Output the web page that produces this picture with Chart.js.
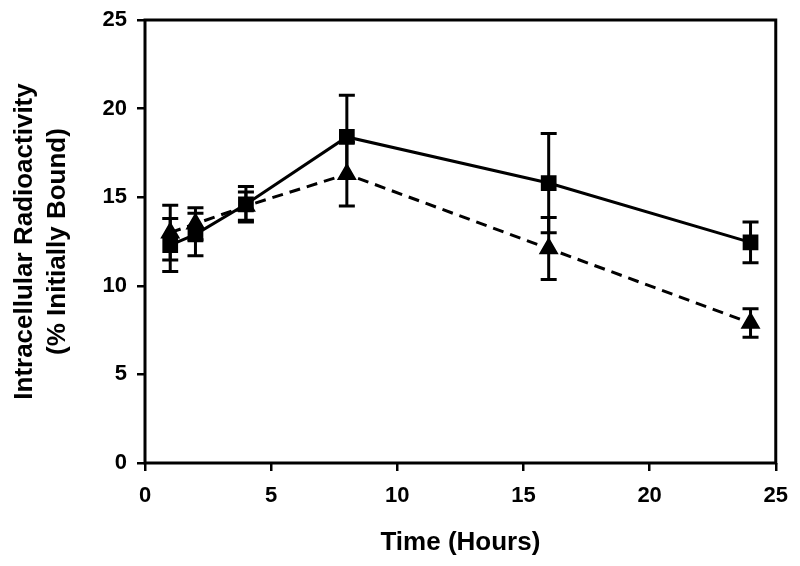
<!DOCTYPE html>
<html lang="en">
<head>
    <meta charset="UTF-8">
    <title>Intracellular Radioactivity</title>
    <script src="https://cdn.jsdelivr.net/npm/chart.js"></script>
    <style>
        body { margin: 0; background: #fff; }
        #wrap { width: 800px; height: 566px; }
    </style>
</head>
<body>
    <div id="wrap"><canvas id="lineChart" width="800" height="566"></canvas></div>
    <script>
        // time points (hours)
        const hours = [1, 2, 4, 8, 16, 24];

        // solid line, square markers
        const squareMean = [12.3, 12.9, 14.6, 18.4, 15.8, 12.45];
        const squareErr = [1.5, 1.2, 1.0, 2.35, 2.8, 1.15];

        // dashed line, triangle markers
        const triangleMean = [13.0, 13.5, 14.5, 16.3, 12.1, 7.9];
        const triangleErr = [1.55, 0.9, 0.8, 1.8, 1.75, 0.8];

        const axisTicks = [0, 5, 10, 15, 20, 25];

        const toPoints = (ys) => hours.map((h, i) => ({ x: h, y: ys[i] }));

        // error bars + frame, drawn with the chart scales
        const errorBars = {
            id: 'errorBars',
            afterDatasetsDraw(chart) {
                const ctx = chart.ctx;
                const xs = chart.scales.x, ys = chart.scales.y;
                const sets = [[squareMean, squareErr], [triangleMean, triangleErr]];
                ctx.save();
                ctx.strokeStyle = '#000';
                ctx.lineWidth = 3;
                sets.forEach(([mean, err]) => {
                    hours.forEach((h, i) => {
                        const px = xs.getPixelForValue(h);
                        const top = ys.getPixelForValue(mean[i] + err[i]);
                        const bot = ys.getPixelForValue(mean[i] - err[i]);
                        ctx.beginPath();
                        ctx.moveTo(px, top); ctx.lineTo(px, bot);
                        ctx.moveTo(px - 8, top); ctx.lineTo(px + 8, top);
                        ctx.moveTo(px - 8, bot); ctx.lineTo(px + 8, bot);
                        ctx.stroke();
                    });
                });
                // box around the plot
                const a = chart.chartArea;
                ctx.lineWidth = 3;
                ctx.strokeRect(a.left, a.top, a.right - a.left, a.bottom - a.top);
                ctx.restore();
            }
        };

        const tickFont = { family: 'Liberation Sans, Arial, sans-serif', size: 22, weight: 'bold' };
        const titleFont = { family: 'Liberation Sans, Arial, sans-serif', size: 26, weight: 'bold', lineHeight: 1.28 };

        const config = {
            type: 'line',
            data: {
                datasets: [
                    {
                        label: 'Square',
                        data: toPoints(squareMean),
                        borderColor: '#000',
                        backgroundColor: '#000',
                        borderWidth: 3,
                        pointStyle: 'rect',
                        pointRadius: 9,
                        fill: false,
                        tension: 0
                    },
                    {
                        label: 'Triangle',
                        data: toPoints(triangleMean),
                        borderColor: '#000',
                        backgroundColor: '#000',
                        borderWidth: 3,
                        borderDash: [11, 7],
                        pointStyle: 'triangle',
                        pointRadius: 8.5,
                        fill: false,
                        tension: 0
                    }
                ]
            },
            options: {
                responsive: false,
                animation: false,
                layout: { padding: { top: 20, right: 22, left: 0, bottom: 0 } },
                plugins: { legend: { display: false }, tooltip: { enabled: false } },
                scales: {
                    x: {
                        type: 'linear',
                        min: 0,
                        max: 25,
                        afterBuildTicks: (s) => { s.ticks = axisTicks.map(v => ({ value: v })); },
                        afterFit: (s) => { s.height = 103; },
                        border: { display: false },
                        grid: { drawOnChartArea: false, drawTicks: true, tickLength: 8, color: '#000', lineWidth: 2.5 },
                        ticks: { color: '#000', font: tickFont, padding: 12, maxRotation: 0 },
                        title: { display: true, text: 'Time (Hours)', color: '#000', font: titleFont, padding: { top: 4, bottom: 7 } }
                    },
                    y: {
                        min: 0,
                        max: 25,
                        afterBuildTicks: (s) => { s.ticks = axisTicks.map(v => ({ value: v })); },
                        afterFit: (s) => { s.width = 145; s.paddingTop = 0; s.paddingBottom = 0; },
                        border: { display: false },
                        grid: { drawOnChartArea: false, drawTicks: true, tickLength: 8, color: '#000', lineWidth: 2.5 },
                        ticks: { color: '#000', font: tickFont, padding: 10 },
                        title: {
                            display: true,
                            text: ['Intracellular Radioactivity', '(% Initially Bound)'],
                            color: '#000',
                            font: titleFont,
                            padding: { top: 8, bottom: 4 }
                        }
                    }
                }
            },
            plugins: [errorBars]
        };

        new Chart(document.getElementById('lineChart'), config);
    </script>
</body>
</html>
